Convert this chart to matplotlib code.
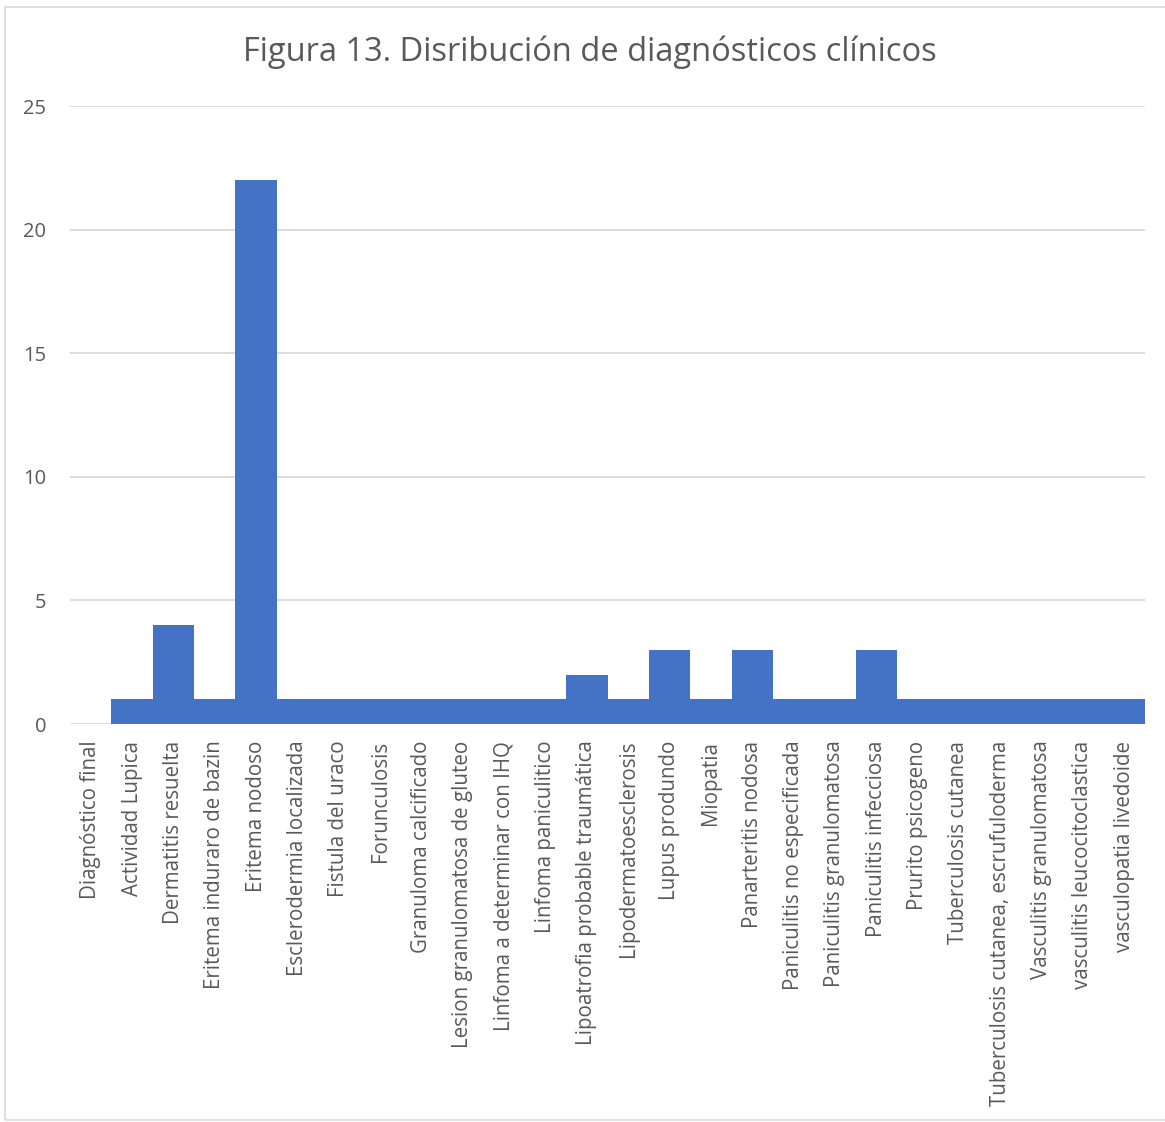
import matplotlib.pyplot as plt
import numpy as np
from matplotlib.patches import Rectangle

plt.rcParams['font.family'] = ['Open Sans', 'DejaVu Sans']

# diagnósticos y número de casos
diagnosticos = [
    'Diagnóstico final', 'Actividad Lupica', 'Dermatitis resuelta',
    'Eritema induraro de bazin', 'Eritema nodoso', 'Esclerodermia localizada',
    'Fistula del uraco', 'Forunculosis', 'Granuloma calcificado',
    'Lesion granulomatosa de gluteo', 'Linfoma a determinar con IHQ',
    'Linfoma paniculitico', 'Lipoatrofia probable traumática',
    'Lipodermatoesclerosis', 'Lupus produndo', 'Miopatia',
    'Panarteritis nodosa', 'Paniculitis no especificada',
    'Paniculitis granulomatosa', 'Paniculitis infecciosa', 'Prurito psicogeno',
    'Tuberculosis cutanea', 'Tuberculosis cutanea, escrufuloderma',
    'Vasculitis granulomatosa', 'vasculitis leucocitoclastica',
    'vasculopatia livedoide',
]
casos = [0, 1, 4, 1, 22, 1, 1, 1, 1, 1, 1, 1, 2, 1, 3, 1, 3, 1, 1, 3, 1,
         1, 1, 1, 1, 1]
yticks = [0, 5, 10, 15, 20, 25]

gris = '#595959'

fig = plt.figure(figsize=(11.65, 11.22), dpi=100)
# marco del gráfico
fig.patches.append(Rectangle((5 / 1165, 2 / 1122), 1.2, 1113 / 1122,
                             transform=fig.transFigure, fill=False,
                             edgecolor='#D9D9D9', linewidth=1.2))

ax = fig.add_axes([70 / 1165, 1 - 724 / 1122, 1075 / 1165, 618 / 1122])
x = np.arange(len(diagnosticos))
ax.bar(x, casos, width=1.0, color='#4472C4', zorder=3)

ax.set_xlim(-0.5, len(diagnosticos) - 0.5)
ax.set_ylim(0, 25)
ax.set_yticks(yticks)
ax.set_yticklabels([str(v) for v in yticks], fontsize=14.5, color=gris)
ax.yaxis.grid(True, color='#D9D9D9', linewidth=1.3, zorder=0)
ax.tick_params(axis='y', length=0, pad=17)

ax.set_xticks(x)
ax.set_xticklabels(diagnosticos, rotation=90, fontsize=14.8, color=gris,
                   va='top', ha='center')
ax.tick_params(axis='x', length=0, pad=12)

for s in ax.spines.values():
    s.set_visible(False)

fig.text(590 / 1165, 1 - 52 / 1122,
         'Figura 13. Disribución de diagnósticos clínicos',
         ha='center', va='center', fontsize=23.5, color=gris)

fig.savefig('out.png', dpi=100)
